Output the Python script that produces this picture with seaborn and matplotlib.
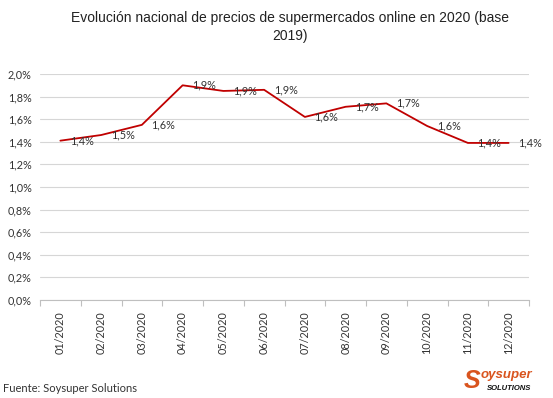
import matplotlib
matplotlib.use("Agg")
import matplotlib.pyplot as plt
import seaborn as sns
import pandas as pd
from matplotlib.ticker import FuncFormatter, FixedLocator

# Data
months = ["01/2020", "02/2020", "03/2020", "04/2020", "05/2020", "06/2020",
          "07/2020", "08/2020", "09/2020", "10/2020", "11/2020", "12/2020"]
values = [1.41, 1.46, 1.55, 1.90, 1.85, 1.86, 1.62, 1.71, 1.74, 1.54, 1.39, 1.39]
labels = ["1,4%", "1,5%", "1,6%", "1,9%", "1,9%", "1,9%",
          "1,6%", "1,7%", "1,7%", "1,6%", "1,4%", "1,4%"]
yticks = [0.0, 0.2, 0.4, 0.6, 0.8, 1.0, 1.2, 1.4, 1.6, 1.8, 2.0]

title = "Evolución nacional de precios de supermercados online en 2020 (base\n2019)"
source = "Fuente: Soysuper Solutions"

df = pd.DataFrame({"mes": months, "valor": values})

sns.set_style("white")
plt.rcParams["font.family"] = ["Lato", "DejaVu Sans"]

fig = plt.figure(figsize=(5.53, 3.98), dpi=100)
ax = fig.add_axes([40 / 553, 1 - 300 / 398, (529 - 40) / 553, (300 - 74) / 398])

sns.lineplot(data=df, x="mes", y="valor", ax=ax, color="#c00000", linewidth=1.3, sort=False)

# data labels to the right of each point
for i, (v, lab) in enumerate(zip(values, labels)):
    ax.annotate(lab, (i, v), xytext=(7, 0), textcoords="offset points",
                ha="left", va="center", fontsize=7.8, color="#333333")

ax.set_xlim(-0.5, len(months) - 0.5)
ax.set_ylim(0, 2.0)
ax.yaxis.set_major_locator(FixedLocator(yticks))
ax.yaxis.set_major_formatter(FuncFormatter(lambda v, p: f"{v:.1f}%".replace(".", ",")))
ax.grid(axis="y", color="#d6d6d6", linewidth=0.8)
ax.set_axisbelow(True)

# category ticks rotated, tick marks between categories
ax.set_xticks(range(len(months)))
ax.set_xticklabels(months, rotation=90, fontsize=7.8, color="#333333")
ax.tick_params(axis="x", length=0, pad=8)
ax.set_xticks([i - 0.5 for i in range(len(months) + 1)], minor=True)
ax.tick_params(axis="x", which="minor", length=4, color="#bfbfbf", width=0.8, bottom=True)
ax.tick_params(axis="y", length=0, labelsize=7.8, labelcolor="#333333", pad=6)

ax.set_xlabel("")
ax.set_ylabel("")
for s in ["top", "right", "left"]:
    ax.spines[s].set_visible(False)
ax.spines["bottom"].set_color("#bfbfbf")
ax.spines["bottom"].set_linewidth(0.8)

fig.text(290 / 553, 1 - 27 / 398, title, ha="center", va="center", fontsize=10,
         family=["Liberation Sans", "DejaVu Sans"], color="#222222", linespacing=1.3)
fig.text(3 / 553, 1 - 389 / 398, source, ha="left", va="center", fontsize=8, color="#333333")

# logo as text
logo_font = ["Liberation Sans Narrow", "Liberation Sans", "DejaVu Sans"]
fig.text(464 / 553, 1 - 381 / 398, "S", ha="left", va="center", fontsize=18,
         fontweight="bold", style="italic", color="#d9541e", family=logo_font)
fig.text(481 / 553, 1 - 375 / 398, "oysuper", ha="left", va="center", fontsize=9.5,
         fontweight="bold", style="italic", color="#d9541e", family=logo_font)
fig.text(487 / 553, 1 - 388 / 398, "SOLUTIONS", ha="left", va="center", fontsize=5.5,
         fontweight="bold", style="italic", color="#111111", family=logo_font)

fig.savefig("out.png", dpi=100)
